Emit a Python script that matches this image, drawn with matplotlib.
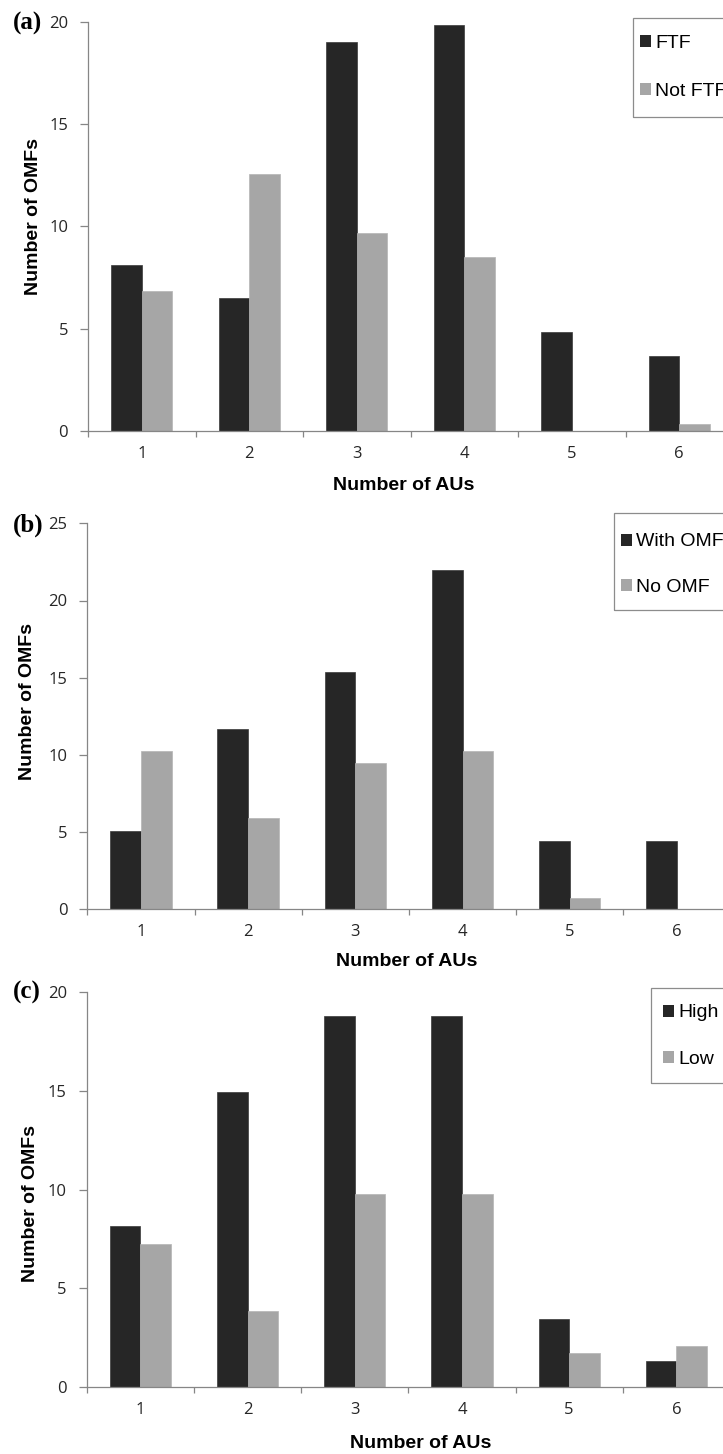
import matplotlib
matplotlib.use("Agg")
import matplotlib.pyplot as plt
from matplotlib.patches import Patch, Rectangle
import numpy as np

W, H = 723, 1454

AUS = [1, 2, 3, 4, 5, 6]

# (a) face-to-face vs not
FTF = [8.1, 6.5, 19.0, 19.85, 4.85, 3.65]
NOT_FTF = [6.85, 12.55, 9.7, 8.5, 0.0, 0.35]

# (b) with / without OMF
WITH_OMF = [5.1, 11.7, 15.4, 22.0, 4.4, 4.4]
NO_OMF = [10.25, 5.9, 9.5, 10.25, 0.7, 0.0]

# (c) high / low
HIGH = [8.15, 14.95, 18.8, 18.8, 3.45, 1.3]
LOW = [7.25, 3.85, 9.8, 9.8, 1.7, 2.1]

DARK = "#262626"
LIGHT = "#a6a6a6"
GREY = "#868686"
TICK_FONT = "Open Sans"
LABEL_FONT = "Liberation Sans"

# layout in reference pixels, kept apart from the data
PANELS = [
    dict(tag="(a)", series=(FTF, NOT_FTF), names=("FTF", "Not FTF"), ymax=20,
         box=(88, 22, 431, 733), ylab=(33.7, 216.7), xlab=(404, 485.7),
         tagpos=(13, 23), legbox=(633, 18, 117), leg_x=640, rows=(43, 92)),
    dict(tag="(b)", series=(WITH_OMF, NO_OMF), names=("With OMF", "No OMF"), ymax=25,
         box=(87.3, 523.3, 909.3, 730.5), ylab=(27.5, 701.7), xlab=(407, 961.7),
         tagpos=(13, 525), legbox=(614, 513, 610), leg_x=620.7, rows=(541.7, 588)),
    dict(tag="(c)", series=(HIGH, LOW), names=("High", "Low"), ymax=20,
         box=(86.7, 992.3, 1387, 730), ylab=(30.8, 1204), xlab=(420.3, 1443),
         tagpos=(13, 992), legbox=(651, 988, 1083), leg_x=663.3, rows=(1012.7, 1060)),
]

PX = 72 / 100  # points per pixel at dpi 100
fig = plt.figure(figsize=(W / 100, H / 100), dpi=100)

bar_w = 1 / 3.5
x = np.array(AUS, dtype=float)

for p in PANELS:
    left, top, bottom, right = p["box"]
    ax = fig.add_axes([left / W, 1 - bottom / H, (right - left) / W, (bottom - top) / H])
    dark_vals, light_vals = p["series"]
    ax.bar(x - bar_w / 2, dark_vals, bar_w, color=DARK, edgecolor="#3a3a3a", linewidth=0.5)
    ax.bar(x + bar_w / 2, light_vals, bar_w, color=LIGHT, edgecolor="#b4b4b4", linewidth=0.5)

    ax.set_xlim(0.5, 6.5)
    ax.set_ylim(0, p["ymax"])
    ax.set_yticks(range(0, p["ymax"] + 1, 5))
    ax.set_xticks(np.arange(0.5, 7, 1))
    ax.set_xticklabels([])
    ax.set_xticks(AUS, minor=True)
    ax.set_xticklabels([str(a) for a in AUS], minor=True)

    for side in ("top", "right"):
        ax.spines[side].set_visible(False)
    for side in ("left", "bottom"):
        ax.spines[side].set_color(GREY)
        ax.spines[side].set_linewidth(0.9)

    ax.tick_params(axis="y", length=8 * PX, width=0.9, color=GREY, pad=8.6,
                   labelsize=12, labelcolor="#262626")
    ax.tick_params(axis="x", which="major", length=6 * PX, width=0.9, color=GREY)
    ax.tick_params(axis="x", which="minor", length=0, pad=10.5,
                   labelsize=12, labelcolor="#262626")
    for lab in ax.get_xticklabels(minor=True) + ax.get_yticklabels():
        lab.set_fontfamily(TICK_FONT)

    ax.set_ylabel("Number of OMFs", fontsize=14, fontweight="bold", family=LABEL_FONT)
    ax.set_xlabel("Number of AUs", fontsize=14, fontweight="bold", family=LABEL_FONT)
    ax.yaxis.label.set_va("center")
    ax.xaxis.label.set_va("center")
    ax.yaxis.set_label_coords((p["ylab"][0] - left) / (right - left),
                              (bottom - p["ylab"][1]) / (bottom - top))
    ax.xaxis.set_label_coords((p["xlab"][0] - left) / (right - left),
                              (bottom - p["xlab"][1]) / (bottom - top))

    fig.text(p["tagpos"][0] / W, 1 - p["tagpos"][1] / H, p["tag"], ha="left", va="center",
             fontsize=18, fontweight="bold", family="Liberation Serif")

    # legend frame, running off the right edge as in the original
    bx, btop, bbot = p["legbox"]
    fig.patches.append(Rectangle((bx / W, 1 - bbot / H), 0.5, (bbot - btop) / H,
                                 transform=fig.transFigure, facecolor="none",
                                 edgecolor="#8c8c8c", linewidth=0.9, zorder=3))
    fs_px = 14 / PX
    row_h = 0.9 * fs_px
    spacing = (p["rows"][1] - p["rows"][0] - row_h) / fs_px
    handles = [Patch(facecolor=DARK, edgecolor="none"), Patch(facecolor=LIGHT, edgecolor="none")]
    leg = ax.legend(handles, p["names"], loc="center left", frameon=False,
                    bbox_to_anchor=(p["leg_x"] / W, 1 - (p["rows"][0] + p["rows"][1]) / 2 / H),
                    bbox_transform=fig.transFigure, borderpad=0, borderaxespad=0,
                    handlelength=0.57, handleheight=0.57, handletextpad=0.2,
                    labelspacing=spacing, prop=dict(family=LABEL_FONT, size=14))
    leg.set_zorder(5)

fig.savefig("out.png", dpi=100)
